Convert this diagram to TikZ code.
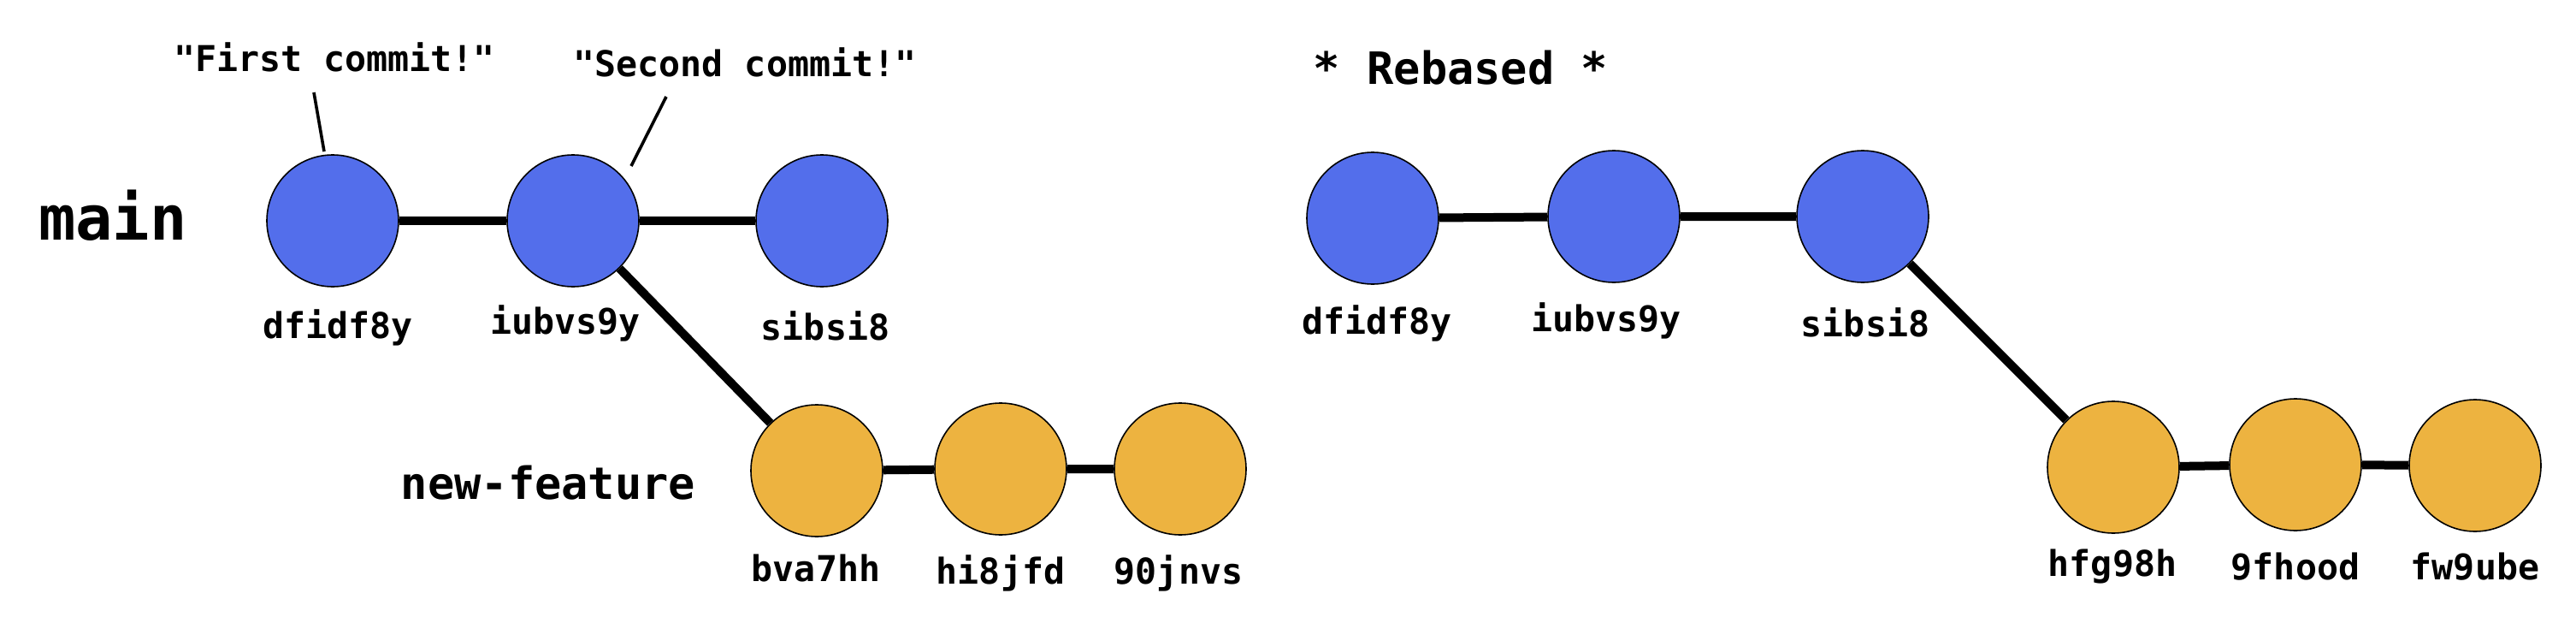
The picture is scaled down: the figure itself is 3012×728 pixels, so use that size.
\documentclass[tikz,border=0pt]{standalone}
\usepackage{fontspec}
\setmonofont{DejaVu Sans Mono}

\tikzset{every picture/.style={line width=0.75pt}}
\tikzset{
  commitblue/.style={circle, draw=black, line width=0.4pt, minimum size=38.5pt, inner sep=0pt, fill={rgb, 255:red, 83; green, 110; blue, 235}},
  commitgold/.style={circle, draw=black, line width=0.4pt, minimum size=38.5pt, inner sep=0pt, fill={rgb, 255:red, 237; green, 179; blue, 64}},
  hashlbl/.style={anchor=base, inner sep=0.75pt, font=\ttfamily\bfseries\fontsize{10.4}{12}\selectfont},
  msglbl/.style={anchor=base, inner sep=0.75pt, font=\ttfamily\bfseries\fontsize{10.4}{12}\selectfont},
  branchlbl/.style={anchor=base, inner sep=0.75pt, font=\ttfamily\bfseries\fontsize{13}{15}\selectfont},
  link/.style={line width=2.5pt},
  pointer/.style={line width=0.9pt}
}

\begin{document}
\begin{tikzpicture}[x=0.25pt,y=0.25pt,yscale=-1,xscale=1]
\path (0,0) rectangle (3012,728); %set diagram to the reference size

%Shape: Circle (main, before)
\node (a1) [commitblue] at (389,258) {};
\node (a2) [commitblue] at (670,258) {};
\node (a3) [commitblue] at (961,258) {};
%Shape: Circle (new-feature, before)
\node (b1) [commitgold] at (955,550) {};
\node (b2) [commitgold] at (1170,548) {};
\node (b3) [commitgold] at (1380,548) {};
%Shape: Circle (main, rebased)
\node (r1) [commitblue] at (1605,255) {};
\node (r2) [commitblue] at (1887,253) {};
\node (r3) [commitblue] at (2178,253) {};
%Shape: Circle (new-feature, rebased)
\node (g1) [commitgold] at (2471,546) {};
\node (g2) [commitgold] at (2684,543) {};
\node (g3) [commitgold] at (2894,544) {};

%Straight Lines
\draw [link] (a1) -- (a2) -- (a3) ;
\draw [link] (a2) -- (b1) ;
\draw [link] (b1) -- (b2) -- (b3) ;
\draw [link] (r1) -- (r2) -- (r3) ;
\draw [link] (r3) -- (g1) ;
\draw [link] (g1) -- (g2) -- (g3) ;

%Straight Lines (commit messages)
\coordinate (m1top) at (367,108);
\coordinate (m1bot) at (379,177);
\coordinate (m2top) at (779,113);
\coordinate (m2bot) at (738,194);
\draw [pointer] (m1top) -- (m1bot) ;
\draw [pointer] (m2top) -- (m2bot) ;

% Text Node
\node (msg1) [msglbl] at (391,83) {"First commit!"};
% Text Node
\node (msg2) [msglbl] at (871,90) {"Second commit!"};
% Text Node
\node (mainlbl) [anchor=base, inner sep=0.75pt, font=\ttfamily\bfseries\fontsize{18}{21}\selectfont] at (132,280) {main};
% Text Node
\node (featlbl) [branchlbl] at (641,583) {new-feature};
% Text Node
\node (rebased) [branchlbl] at (1708,98) {* Rebased *};

% Text Node
\node (ha1) [hashlbl] at (395,395) {dfidf8y};
\node (ha2) [hashlbl] at (661,390) {iubvs9y};
\node (ha3) [hashlbl] at (965,397) {sibsi8};
\node (hb1) [hashlbl] at (954,679) {bva7hh};
\node (hb2) [hashlbl] at (1170,682) {hi8jfd};
\node (hb3) [hashlbl] at (1378,682) {90jnvs};
% Text Node
\node (hr1) [hashlbl] at (1610,390) {dfidf8y};
\node (hr2) [hashlbl] at (1878,387) {iubvs9y};
\node (hr3) [hashlbl] at (2181,393) {sibsi8};
\node (hg1) [hashlbl] at (2470,673) {hfg98h};
\node (hg2) [hashlbl] at (2684,677) {9fhood};
\node (hg3) [hashlbl] at (2894,677) {fw9ube};

\end{tikzpicture}
\end{document}
